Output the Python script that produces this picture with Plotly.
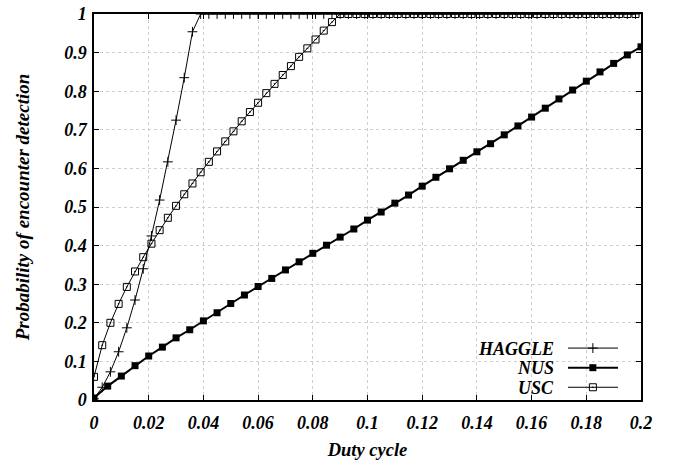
import plotly.graph_objects as go

# ---- data ----
x_fine = [round(i * 0.003, 3) for i in range(67)]  # 0 .. 0.198
x_nus = [round(i * 0.005, 3) for i in range(41)]   # 0 .. 0.2

haggle_head = [0.003, 0.033, 0.073, 0.125, 0.187, 0.259, 0.340, 0.425,
               0.518, 0.617, 0.725, 0.835, 0.954]
haggle = haggle_head + [1.0] * (67 - len(haggle_head))

usc_head = [0.060, 0.142, 0.200, 0.249, 0.293, 0.333, 0.370, 0.405, 0.440,
            0.472, 0.503, 0.533, 0.561, 0.590, 0.617, 0.644, 0.670, 0.696,
            0.722, 0.746, 0.770, 0.795, 0.819, 0.842, 0.865, 0.889, 0.911,
            0.934, 0.957, 0.979]
usc = usc_head + [1.0] * (67 - len(usc_head))

nus = [0.005, 0.036, 0.062, 0.089, 0.114, 0.137, 0.161, 0.182, 0.205, 0.226,
       0.250, 0.272, 0.294, 0.315, 0.337, 0.358, 0.380, 0.401, 0.422, 0.443,
       0.466, 0.487, 0.510, 0.531, 0.554, 0.577, 0.599, 0.621, 0.643, 0.664,
       0.687, 0.710, 0.733, 0.756, 0.780, 0.803, 0.826, 0.850, 0.872, 0.894,
       0.915]

x_ticks = [0, 0.02, 0.04, 0.06, 0.08, 0.1, 0.12, 0.14, 0.16, 0.18, 0.2]
x_labels = ["0", "0.02", "0.04", "0.06", "0.08", "0.1", "0.12", "0.14", "0.16", "0.18", "0.2"]
y_ticks = [0, 0.1, 0.2, 0.3, 0.4, 0.5, 0.6, 0.7, 0.8, 0.9, 1]
y_labels = ["0", "0.1", "0.2", "0.3", "0.4", "0.5", "0.6", "0.7", "0.8", "0.9", "1"]

series_names = ["HAGGLE", "NUS", "USC"]

# ---- styles ----
FONT = "Liberation Serif, Times New Roman, serif"
tickfont = dict(family=FONT, size=18, color="black", weight="bold", style="italic")
xtitlefont = dict(family=FONT, size=18.5, color="black", weight="bold", style="italic")
ytitlefont = dict(family=FONT, size=19, color="black", weight="bold", style="italic")

styles = {
    "HAGGLE": dict(line=dict(color="black", width=1),
                   marker=dict(symbol="cross-thin-open", size=7, color="black",
                               line=dict(color="black", width=1))),
    "NUS": dict(line=dict(color="black", width=2),
                marker=dict(symbol="square", size=7, color="black")),
    "USC": dict(line=dict(color="black", width=1),
                marker=dict(symbol="square-open-dot", size=7, color="black",
                            line=dict(color="black", width=1))),
}

fig = go.Figure()
fig.add_trace(go.Scatter(x=x_fine, y=haggle, mode="lines+markers", name="HAGGLE",
                         showlegend=False, **styles["HAGGLE"]))
fig.add_trace(go.Scatter(x=x_nus, y=nus, mode="lines+markers", name="NUS",
                         showlegend=False, **styles["NUS"]))
fig.add_trace(go.Scatter(x=x_fine, y=usc, mode="lines+markers", name="USC",
                         showlegend=False, **styles["USC"]))

# ---- legend (gnuplot style: text, then sample) on an overlay axis ----
leg_y = [0.1345, 0.0837, 0.0330]
for name, ly in zip(series_names, leg_y):
    st = styles[name]
    fig.add_trace(go.Scatter(x=[0.8665, 0.958], y=[ly, ly], mode="lines",
                             line=st["line"], xaxis="x2", yaxis="y2",
                             showlegend=False, hoverinfo="skip"))
    fig.add_trace(go.Scatter(x=[0.912], y=[ly], mode="markers",
                             marker=st["marker"], xaxis="x2", yaxis="y2",
                             showlegend=False, hoverinfo="skip"))
    fig.add_annotation(x=0.843, y=ly, xref="x2", yref="y2", text=name,
                       showarrow=False, xanchor="right", yanchor="middle",
                       borderpad=0, height=17, valign="middle",
                       font=dict(family=FONT, size=18, color="black",
                                 weight="bold", style="italic"))

axis_common = dict(
    showline=True, linecolor="black", linewidth=1.5, mirror="allticks",
    ticks="inside", ticklen=5, tickwidth=1, tickcolor="black",
    showgrid=True, gridcolor="#cfcfcf", gridwidth=1, griddash="dot",
    zeroline=False, tickfont=tickfont, automargin=False,
)

fig.update_layout(
    width=673, height=460,
    margin=dict(l=94, r=32, t=14, b=60, autoexpand=False),
    plot_bgcolor="white", paper_bgcolor="white",
    xaxis=dict(range=[0, 0.2], tickvals=x_ticks, ticktext=x_labels,
               ticklabelstandoff=6,
               title=dict(text="Duty cycle", font=xtitlefont, standoff=12),
               **axis_common),
    yaxis=dict(range=[0, 1], tickvals=y_ticks, ticktext=y_labels,
               ticklabelstandoff=2,
               title=dict(text="Probability of encounter detection", font=ytitlefont,
                          standoff=30),
               **axis_common),
    xaxis2=dict(range=[0, 1], overlaying="x", visible=False),
    yaxis2=dict(range=[0, 1], overlaying="y", visible=False),
)

fig.write_html("out.html", config={"displayModeBar": False},
               post_script="document.body.style.margin='0';document.body.style.overflow='hidden';")
